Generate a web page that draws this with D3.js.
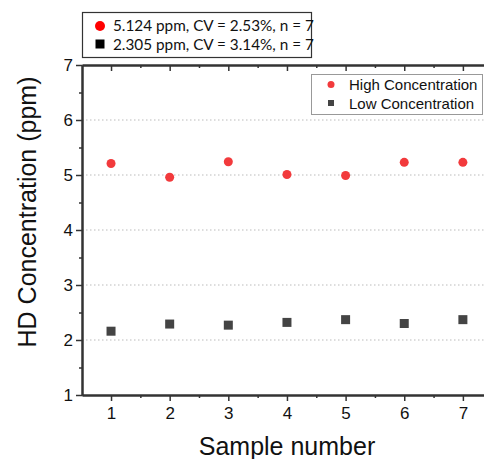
<!DOCTYPE html>
<html>
<head>
<meta charset="utf-8">
<script src="https://cdn.jsdelivr.net/npm/d3@7"></script>
<style>
  body { margin: 0; background: #fff; }
  svg { display: block; font-family: Arial, 'Liberation Sans', sans-serif; }
</style>
</head>
<body>
<div id="chart"></div>
<script>
const samples = [1, 2, 3, 4, 5, 6, 7]
const highValues = [5.21, 4.96, 5.24, 5.01, 4.99, 5.23, 5.23]
const lowValues = [2.16, 2.29, 2.27, 2.32, 2.37, 2.30, 2.37]
const yTicks = [1, 2, 3, 4, 5, 6, 7]
const gridTicks = [2, 3, 4, 5, 6]
const statsLabels = ['5.124 ppm, CV = 2.53%, n = 7', '2.305 ppm, CV = 3.14%, n = 7']
const seriesLabels = ['High Concentration', 'Low Concentration']

const width = 484
const height = 459
const margin = { top: 65, right: 0, bottom: 64, left: 82 }
const axisColor = '#333'
const red = '#f23a3c'
const gray = '#444'

const svg = d3.select('#chart')
  .append('svg')
  .attr('width', width)
  .attr('height', height)

const x = d3.scaleLinear()
  .domain([0.505, 7.36])
  .range([margin.left, width - margin.right])

const y = d3.scaleLinear()
  .domain([1, 7])
  .range([height - margin.bottom, margin.top])

// grid lines
svg.append('g')
  .selectAll('line')
  .data(gridTicks)
  .join('line')
  .attr('x1', margin.left)
  .attr('x2', width)
  .attr('y1', d => y(d))
  .attr('y2', d => y(d))
  .attr('stroke', '#bbb')
  .attr('stroke-width', 1)
  .attr('stroke-dasharray', '1.5,2.5')

const halfX = d3.range(1.5, 7.5, 1)
const halfY = d3.range(1.5, 7, 1)
const intFormat = d3.format('d')

// bottom axis
const bottomAxis = svg.append('g')
  .attr('transform', `translate(0, ${y(1)})`)
  .call(d3.axisBottom(x).tickValues(samples).tickFormat(intFormat).tickSize(6).tickPadding(6).tickSizeOuter(0))
bottomAxis.append('g')
  .call(d3.axisBottom(x).tickValues(halfX).tickSize(3).tickFormat('').tickSizeOuter(0))

// top axis, ticks pointing in
const topAxis = svg.append('g')
  .attr('transform', `translate(0, ${y(7)})`)
  .call(d3.axisBottom(x).tickValues(samples).tickSize(6).tickFormat('').tickSizeOuter(0))
topAxis.append('g')
  .call(d3.axisBottom(x).tickValues(halfX).tickSize(3).tickFormat('').tickSizeOuter(0))

// left axis
const leftAxis = svg.append('g')
  .attr('transform', `translate(${margin.left}, 0)`)
  .call(d3.axisLeft(y).tickValues(yTicks).tickFormat(intFormat).tickSize(6).tickPadding(3).tickSizeOuter(0))
leftAxis.append('g')
  .call(d3.axisLeft(y).tickValues(halfY).tickSize(3).tickFormat('').tickSizeOuter(0))

svg.selectAll('.domain').attr('stroke', axisColor).attr('stroke-width', 2)
svg.selectAll('.tick line').attr('stroke', axisColor).attr('stroke-width', 1.5)
svg.selectAll('.tick text')
  .attr('fill', '#111')
  .style('font-size', '17px')
  .style('font-family', 'Arial, "Liberation Sans", sans-serif')

// axis titles
svg.append('text')
  .attr('x', 287)
  .attr('y', 455)
  .attr('text-anchor', 'middle')
  .attr('fill', '#111')
  .style('font-size', '25px')
  .text('Sample number')

svg.append('text')
  .attr('transform', `translate(36, ${(y(1) + y(7)) / 2 - 18}) rotate(-90)`)
  .attr('text-anchor', 'middle')
  .attr('fill', '#111')
  .style('font-size', '25px')
  .text('HD Concentration (ppm)')

// data points
svg.append('g')
  .selectAll('circle')
  .data(samples)
  .join('circle')
  .attr('cx', d => x(d))
  .attr('cy', (d, i) => y(highValues[i]))
  .attr('r', 4.5)
  .attr('fill', red)

svg.append('g')
  .selectAll('rect')
  .data(samples)
  .join('rect')
  .attr('x', d => x(d) - 4.5)
  .attr('y', (d, i) => y(lowValues[i]) - 4.5)
  .attr('width', 9)
  .attr('height', 9)
  .attr('fill', gray)

// series legend
const leg = svg.append('g')
leg.append('rect')
  .attr('x', 311.5).attr('y', 74.5)
  .attr('width', 171).attr('height', 40)
  .attr('fill', '#fff').attr('stroke', '#999')
leg.append('circle').attr('cx', 331).attr('cy', 84.5).attr('r', 3.5).attr('fill', red)
leg.append('rect').attr('x', 328).attr('y', 100).attr('width', 6).attr('height', 6).attr('fill', gray)
leg.selectAll('text')
  .data(seriesLabels)
  .join('text')
  .attr('x', 349)
  .attr('y', (d, i) => 90 + i * 19)
  .attr('fill', '#111')
  .style('font-size', '15px')
  .text(d => d)

// stats legend
const stats = svg.append('g')
stats.append('rect')
  .attr('x', 82.5).attr('y', 12.5)
  .attr('width', 229).attr('height', 45)
  .attr('fill', '#fff').attr('stroke', axisColor).attr('stroke-width', 1.2)
stats.append('circle').attr('cx', 100).attr('cy', 26).attr('r', 5).attr('fill', '#f00')
stats.append('rect').attr('x', 95.5).attr('y', 39.5).attr('width', 9).attr('height', 9).attr('fill', '#000')
stats.selectAll('text')
  .data(statsLabels)
  .join('text')
  .attr('x', 113)
  .attr('y', (d, i) => 31 + i * 19)
  .attr('fill', '#111')
  .style('font-size', '15.3px')
  .style('font-family', 'Lato, sans-serif')
  .text(d => d)
</script>
</body>
</html>
